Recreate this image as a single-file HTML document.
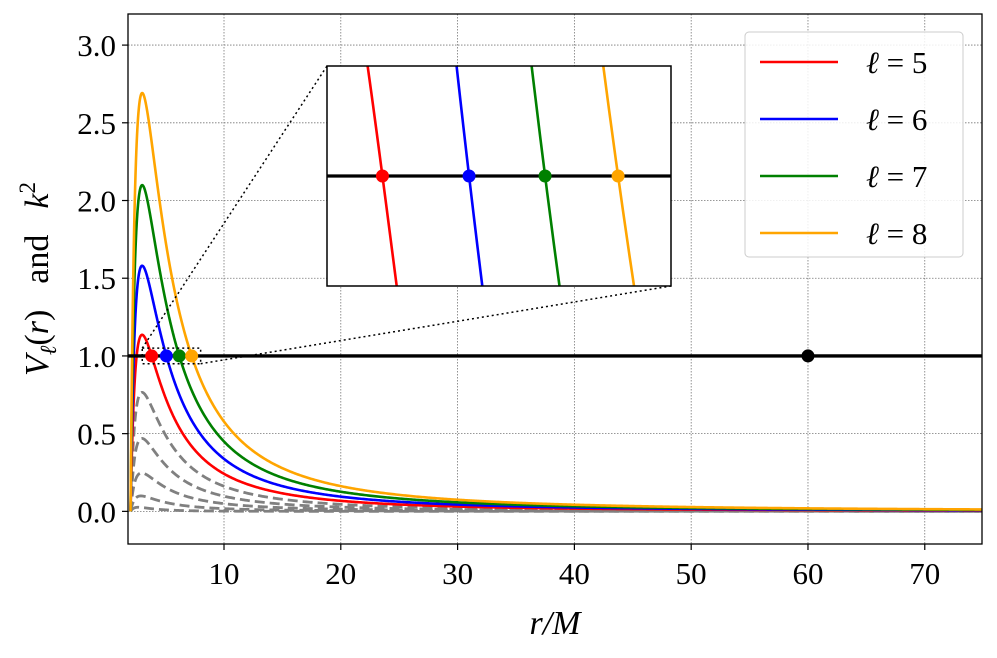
<!DOCTYPE html>
<html><head><meta charset="utf-8">
<style>
html,body{margin:0;padding:0;background:#fff;width:997px;height:658px;overflow:hidden;}
svg{display:block;font-family:"Liberation Serif",serif;}
</style></head>
<body>
<svg id="chart" width="997" height="658" viewBox="0 0 997 658" xmlns="http://www.w3.org/2000/svg">
<defs>
<clipPath id="mainclip"><rect x="128" y="14" width="854" height="530"/></clipPath>
<clipPath id="insetclip"><rect x="327" y="66" width="344" height="220"/></clipPath>
</defs>
<rect x="0" y="0" width="997" height="658" fill="#fff"/>
<g id="grid"></g>
<g id="ticks"></g>
<g id="main" clip-path="url(#mainclip)"></g>
<rect x="128" y="14" width="854" height="530" fill="none" stroke="#000" stroke-width="1.3"/>
<g id="connectors"></g>
<rect x="327" y="66" width="344" height="220" fill="#fff"/>
<g id="inset" clip-path="url(#insetclip)"></g>
<rect x="327" y="66" width="344" height="220" fill="none" stroke="#000" stroke-width="1.5"/>
<g>
<rect x="745" y="32" width="218" height="225" rx="4" fill="#fff" fill-opacity="0.85" stroke="#ccc" stroke-width="1"/>
<g id="legend"></g>
</g>
<text x="555" y="634" font-size="34" font-style="italic" text-anchor="middle">r/M</text>
<text transform="translate(48,279) rotate(-90)" font-size="34" text-anchor="middle"><tspan font-style="italic">V</tspan><tspan font-size="23" font-style="italic" dy="8">ℓ</tspan><tspan dy="-8">(</tspan><tspan font-style="italic">r</tspan><tspan>)</tspan><tspan dx="26">and</tspan><tspan dx="26" font-style="italic">k</tspan><tspan font-size="23" dy="-13">2</tspan></text>
</svg>
<script>
const xTicks=[10,20,30,40,50,60,70];
const yTicks=[0.0,0.5,1.0,1.5,2.0,2.5,3.0];
const yTickLabels=["0.0","0.5","1.0","1.5","2.0","2.5","3.0"];
const ellColored=[5,6,7,8];
const colors=["#ff0000","#0000ff","#008000","#ffa500"];
const ellDashed=[0,1,2,3,4];
const kSquared=[1.0];
const blackPointR=[60];
const xDomain=[1.78,74.9], yDomain=[-0.21,3.2];
const insetX=[3,8], insetY=[0.95,1.05];

const NS="http://www.w3.org/2000/svg";
function el(t,a,p){const e=document.createElementNS(NS,t);for(const k in a)e.setAttribute(k,a[k]);p.appendChild(e);return e;}
const X=v=>128+(v-xDomain[0])/(xDomain[1]-xDomain[0])*854;
const Y=v=>544-(v-yDomain[0])/(yDomain[1]-yDomain[0])*530;
const IX=v=>327+(v-insetX[0])/(insetX[1]-insetX[0])*344;
const IY=v=>286-(v-insetY[0])/(insetY[1]-insetY[0])*220;
function V(l,r){return (1-2/r)*(l*(l+1)/(r*r)+2/(r*r*r));}
function crossing(l,k){let a=3,b=75;for(let i=0;i<60;i++){const m=(a+b)/2;if(V(l,m)>k)a=m;else b=m;}return (a+b)/2;}
const rs=[];for(let r=2;r<6;r+=0.01)rs.push(r);for(let r=6;r<=76;r+=0.1)rs.push(r);

const grid=document.getElementById('grid'),ticks=document.getElementById('ticks');
xTicks.forEach(t=>{
 const g=el('line',{x1:X(t),x2:X(t),y1:14,y2:544,stroke:'#777','stroke-width':0.8,'stroke-dasharray':'1.5,1.5'},grid);
 
 el('line',{x1:X(t),x2:X(t),y1:544,y2:550,stroke:'#000','stroke-width':1.2},ticks);
 const tx=el('text',{x:X(t),y:584,'font-size':31,'text-anchor':'middle'},ticks);tx.textContent=t;
 
});
yTicks.forEach((t,i)=>{
 const g=el('line',{x1:128,x2:982,y1:Y(t),y2:Y(t),stroke:'#777','stroke-width':0.8,'stroke-dasharray':'1.5,1.5'},grid);
 
 el('line',{x1:122,x2:128,y1:Y(t),y2:Y(t),stroke:'#000','stroke-width':1.2},ticks);
 const tx=el('text',{x:116,y:Y(t)+11,'font-size':31,'text-anchor':'end'},ticks);tx.textContent=yTickLabels[i];
 
});

function drawCurves(parent,xf,yf,withDashed){
 if(withDashed) ellDashed.forEach(l=>{
  const d=rs.map((r,i)=>(i?'L':'M')+xf(r).toFixed(2)+','+yf(V(l,r)).toFixed(2)).join('');
  const p=el('path',{d:d,fill:'none',stroke:'#808080','stroke-width':2.8,'stroke-dasharray':'10,5'},parent);
  
 });
 ellColored.forEach((l,i)=>{
  const d=rs.map((r,j)=>(j?'L':'M')+xf(r).toFixed(2)+','+yf(V(l,r)).toFixed(2)).join('');
  const p=el('path',{d:d,fill:'none',stroke:colors[i],'stroke-width':2.6},parent);
  
 });
 kSquared.forEach(k=>{
  const ln=el('line',{x1:xf(0),x2:xf(100),y1:yf(k),y2:yf(k),stroke:'#000','stroke-width':3.3},parent);
  
  ellColored.forEach((l,i)=>{
   const c=el('circle',{cx:xf(crossing(l,k)),cy:yf(k),r:6.5,fill:colors[i]},parent);
   
  });
 });
}
const main=document.getElementById('main');
drawCurves(main,X,Y,true);
blackPointR.forEach(r=>{
 const c=el('circle',{cx:X(r),cy:Y(kSquared[0]),r:6.5,fill:'#000'},main);
 
});
drawCurves(document.getElementById('inset'),IX,IY,false);

const con=document.getElementById('connectors');
const zr=el('rect',{x:X(insetX[0]),y:Y(insetY[1]),width:X(insetX[1])-X(insetX[0]),height:Y(insetY[0])-Y(insetY[1]),fill:'none',stroke:'#000','stroke-width':1.5,'stroke-dasharray':'2,3'},con);

el('line',{x1:X(insetX[0]),y1:Y(insetY[1]),x2:327,y2:66,stroke:'#000','stroke-width':1.5,'stroke-dasharray':'2,3'},con);
el('line',{x1:X(insetX[1]),y1:Y(insetY[0]),x2:671,y2:286,stroke:'#000','stroke-width':1.5,'stroke-dasharray':'2,3'},con);

const lg=document.getElementById('legend');
ellColored.forEach((l,i)=>{
 const y=62+i*57;
 const g=el('g',{},lg);
 
 el('line',{x1:760,x2:838,y1:y,y2:y,stroke:colors[i],'stroke-width':2.6},g);
 const t=el('text',{x:866,y:y+11,'font-size':31},g);
 t.innerHTML='<tspan font-style="italic">ℓ</tspan> = '+l;
});
</script>
</body></html>
